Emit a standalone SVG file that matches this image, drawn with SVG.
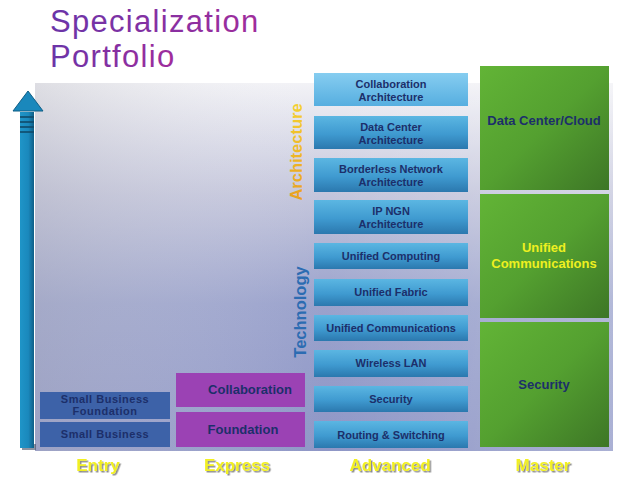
<svg xmlns="http://www.w3.org/2000/svg" width="632" height="480" viewBox="0 0 632 480">
<defs>
<linearGradient id="bgV" x1="0" y1="0" x2="0" y2="1">
<stop offset="0" stop-color="#f2f2f6"/>
<stop offset="0.3" stop-color="#c4c6dc"/>
<stop offset="0.6" stop-color="#9aa2cc"/>
<stop offset="1" stop-color="#8e96c6"/>
</linearGradient>
<linearGradient id="bgH" x1="0" y1="0" x2="1" y2="0">
<stop offset="0" stop-color="#b8b8c0" stop-opacity="0.35"/>
<stop offset="0.5" stop-color="#ffffff" stop-opacity="0"/>
<stop offset="1" stop-color="#ffffff" stop-opacity="0.25"/>
</linearGradient>
<linearGradient id="title" x1="0" y1="0" x2="1" y2="0">
<stop offset="0" stop-color="#6a34a8"/>
<stop offset="1" stop-color="#a02c9c"/>
</linearGradient>
<linearGradient id="adv" x1="0" y1="0" x2="0" y2="1">
<stop offset="0" stop-color="#5bb6e2"/>
<stop offset="0.55" stop-color="#3f9ad0"/>
<stop offset="1" stop-color="#2b78ae"/>
</linearGradient>
<linearGradient id="advTop" x1="0" y1="0" x2="0" y2="1">
<stop offset="0" stop-color="#86cdf0"/>
<stop offset="1" stop-color="#56aee0"/>
</linearGradient>
<linearGradient id="green" x1="0" y1="0" x2="1" y2="1">
<stop offset="0" stop-color="#62b436"/>
<stop offset="0.5" stop-color="#54a030"/>
<stop offset="1" stop-color="#3d7626"/>
</linearGradient>
<linearGradient id="arch" x1="0" y1="0" x2="1" y2="0">
<stop offset="0" stop-color="#e8a020"/>
<stop offset="1" stop-color="#f4d030"/>
</linearGradient>
<linearGradient id="shaft" x1="0" y1="0" x2="1" y2="0">
<stop offset="0" stop-color="#1f95c8"/>
<stop offset="0.6" stop-color="#1a88bc"/>
<stop offset="1" stop-color="#0f5e86"/>
</linearGradient>
<filter id="sh" x="-20%" y="-20%" width="140%" height="140%">
<feDropShadow dx="1.5" dy="1.5" stdDeviation="0.6" flood-color="#707070" flood-opacity="0.8"/>
</filter>
<style>
.t{font-family:"Liberation Sans",Arial,sans-serif;font-weight:bold;text-anchor:middle;fill:#1c2f6a}
.a{font-size:11px}
.e{font-size:11px;letter-spacing:0.5px}
.m{font-size:13px}
.lvl{font-family:"Liberation Sans",Arial,sans-serif;font-weight:bold;font-size:17px;text-anchor:middle;fill:#f2f020;filter:url(#sh)}
.ent{fill:#3d62a8}
.exp{fill:#9b42b4}
.advb{fill:url(#adv)}
.mst{fill:url(#green)}
</style>
</defs>
<rect x="35" y="83" width="578" height="368" fill="url(#bgV)"/>
<rect x="35" y="83" width="578" height="368" fill="url(#bgH)"/>
<g id="title" font-family="'Liberation Sans',Arial,sans-serif" font-size="31" fill="url(#title)">
<text x="50" y="32" letter-spacing="1.3">Specialization</text>
<text x="50" y="67" letter-spacing="1.3">Portfolio</text>
</g>
<g id="arrow">
<rect x="22" y="444" width="14" height="6" fill="#404a60" opacity="0.6"/>
<rect x="20" y="112" width="14" height="336" fill="url(#shaft)"/>
<polygon points="28,91 43,111 13,111" fill="#1a88bc" stroke="#0f5e86" stroke-width="1"/>
<g stroke="#0f4a6a" stroke-width="1.6">
<line x1="20" y1="117" x2="34" y2="117"/>
<line x1="20" y1="122" x2="34" y2="122"/>
<line x1="20" y1="127" x2="34" y2="127"/>
<line x1="20" y1="132" x2="34" y2="132"/>
</g>
</g>
<g id="lbl-arch"><text transform="translate(302,152) rotate(-90)" font-family="'Liberation Sans',Arial,sans-serif" font-weight="bold" font-size="16.5" text-anchor="middle" fill="url(#arch)">Architecture</text></g>
<g id="lbl-tech"><text transform="translate(306,312) rotate(-90)" font-family="'Liberation Sans',Arial,sans-serif" font-weight="bold" font-size="16.5" text-anchor="middle" fill="#2c6cb2">Technology</text></g>
<g id="entry-sbf"><rect class="ent" x="40" y="392" width="130" height="27"/><text class="t e" x="105" y="403">Small Business</text><text class="t e" x="105" y="415">Foundation</text></g>
<g id="entry-sb"><rect class="ent" x="40" y="422" width="130" height="25"/><text class="t e" x="105" y="438">Small Business</text></g>
<g id="exp-collab"><rect class="exp" x="176" y="373" width="129" height="34"/><text class="t m" x="250" y="394">Collaboration</text></g>
<g id="exp-found"><rect class="exp" x="176" y="412" width="129" height="35"/><text class="t m" x="243" y="434">Foundation</text></g>
<g id="adv-1"><rect fill="url(#advTop)" x="314" y="73" width="154" height="33"/><text class="t a" x="391" y="88">Collaboration</text><text class="t a" x="391" y="101">Architecture</text></g>
<g id="adv-2"><rect class="advb" x="314" y="116" width="154" height="33"/><text class="t a" x="391" y="131">Data Center</text><text class="t a" x="391" y="144">Architecture</text></g>
<g id="adv-3"><rect class="advb" x="314" y="158" width="154" height="34"/><text class="t a" x="391" y="173">Borderless Network</text><text class="t a" x="391" y="186">Architecture</text></g>
<g id="adv-4"><rect class="advb" x="314" y="200" width="154" height="34"/><text class="t a" x="391" y="215">IP NGN</text><text class="t a" x="391" y="228">Architecture</text></g>
<g id="adv-5"><rect class="advb" x="314" y="243" width="154" height="26"/><text class="t a" x="391" y="260">Unified Computing</text></g>
<g id="adv-6"><rect class="advb" x="314" y="279" width="154" height="27"/><text class="t a" x="391" y="296">Unified  Fabric</text></g>
<g id="adv-7"><rect class="advb" x="314" y="315" width="154" height="26"/><text class="t a" x="391" y="332">Unified Communications</text></g>
<g id="adv-8"><rect class="advb" x="314" y="350" width="154" height="27"/><text class="t a" x="391" y="367">Wireless LAN</text></g>
<g id="adv-9"><rect class="advb" x="314" y="386" width="154" height="26"/><text class="t a" x="391" y="403">Security</text></g>
<g id="adv-10"><rect class="advb" x="314" y="421" width="154" height="27"/><text class="t a" x="391" y="439">Routing &amp; Switching</text></g>
<g id="mst-dc"><rect class="mst" x="480" y="66" width="129" height="124"/><text class="t m" x="544" y="125">Data Center/Cloud</text></g>
<g id="mst-uc"><rect class="mst" x="480" y="194" width="129" height="124"/><text class="t m" x="544" y="252" style="fill:#eef020">Unified</text><text class="t m" x="544" y="268" style="fill:#eef020">Communications</text></g>
<g id="mst-sec"><rect class="mst" x="480" y="322" width="129" height="125"/><text class="t m" x="544" y="389">Security</text></g>
<g id="levels">
<text class="lvl" x="98" y="471">Entry</text>
<text class="lvl" x="237" y="471">Express</text>
<text class="lvl" x="390" y="471">Advanced</text>
<text class="lvl" x="543" y="471">Master</text>
</g>
</svg>
